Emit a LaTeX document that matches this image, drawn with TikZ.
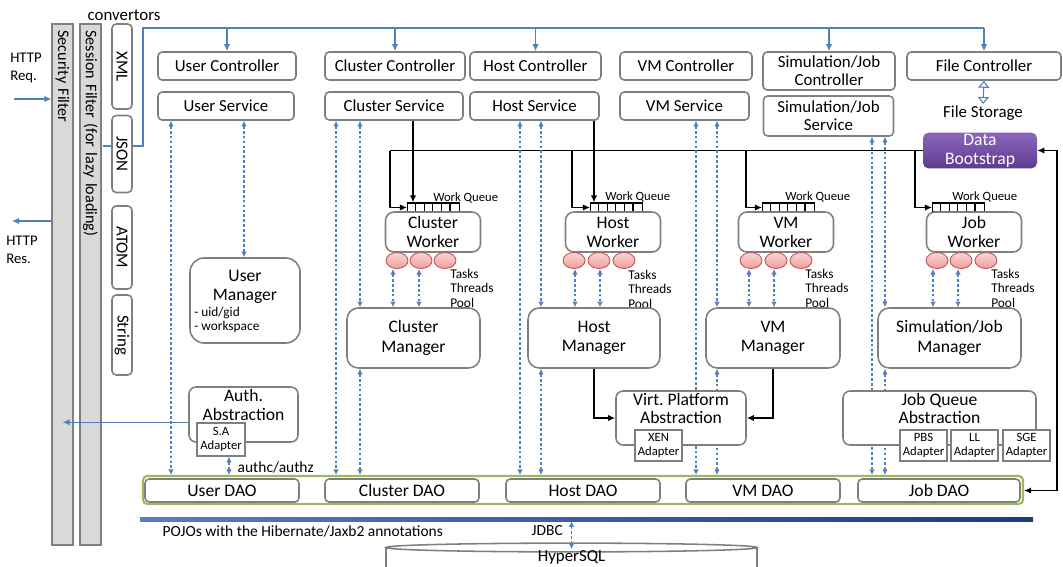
\documentclass[tikz,border=0pt]{standalone}
\usepackage{fontspec}
\setmainfont{Carlito}
\usetikzlibrary{arrows.meta,shapes.geometric,calc}

\definecolor{boxgray}{HTML}{7F7F7F}
\definecolor{arrowblue}{HTML}{4F81BD}
\definecolor{barfill}{HTML}{D9D9D9}
\definecolor{daogreen}{HTML}{9BBB59}
\definecolor{bootTop}{HTML}{8A66BE}
\definecolor{bootBot}{HTML}{5E3C8C}
\definecolor{threadTop}{HTML}{FBD6D6}
\definecolor{threadBot}{HTML}{EE9C9C}
\definecolor{threadRed}{HTML}{C0504D}
\definecolor{navyLight}{HTML}{5B7CC0}
\definecolor{navyDark}{HTML}{1F3A7D}

\def\pxu{0.025cm}
\def\workqueue(#1)(#2,#3){%
	\node[qbox, anchor=west] (#1) at (#2,#3) {};
	\foreach \k in {1,...,5}
		\draw[line width=0.8pt] ($(#1.south west)+(\k*8.6,0)$) -- ($(#1.north west)+(\k*8.6,0)$);
}

\tikzset{
	sz/.style 2 args={minimum width=#1*\pxu, minimum height=#2*\pxu},
	txt/.style={align=center, inner sep=1pt, font=\fontsize{12}{13}\selectfont},
	smalltxt/.style={align=left, inner sep=0pt, font=\fontsize{10.5}{12.5}\selectfont},
	note/.style={align=left, inner sep=0pt, font=\fontsize{9.5}{10.3}\selectfont},
	box/.style={draw=boxgray, line width=1.1pt, rounded corners=3pt, fill=white,
		align=center, inner sep=1pt, font=\fontsize{12}{13}\selectfont},
	wk/.style={box, rounded corners=6pt, sz={95}{40}, font=\fontsize{12.5}{13.5}\selectfont},
	mgr/.style={box, rounded corners=8pt, font=\fontsize{12.5}{14}\selectfont},
	absbox/.style={box, rounded corners=5pt},
	daobox/.style={box, sz={154}{23}, font=\fontsize{12.5}{13}\selectfont},
	adapter/.style={draw=boxgray, line width=1.1pt, fill=white, align=center,
		inner sep=0pt, font=\fontsize{9}{10}\selectfont},
	boot/.style={rounded corners=4pt, top color=bootTop, bottom color=bootBot, text=white,
		align=center, inner sep=1pt, font=\fontsize{12.5}{13.5}\selectfont},
	filterbar/.style={draw=boxgray, line width=0.8pt, fill=barfill, rotate=-90,
		sz={521}{21}, text width=12.7cm, align=left, inner sep=1pt,
		font=\fontsize{11.5}{13}\selectfont},
	conv/.style={box, rotate=-90},
	thread/.style={ellipse, draw=threadRed, line width=0.6pt, top color=threadTop,
		bottom color=threadBot, sz={22}{16}, inner sep=0pt},
	qbox/.style={draw, line width=0.8pt, fill=white, sz={51.6}{9}, inner sep=0pt},
	flow/.style={-{Latex[length=5pt,width=4.5pt]}, line width=1.1pt},
	flowboth/.style={{Latex[length=5pt,width=4.5pt]}-{Latex[length=5pt,width=4.5pt]}, line width=1.1pt},
	call/.style={-{Latex[length=5pt,width=4.5pt]}, draw=arrowblue, line width=0.9pt},
	link/.style={{Latex[length=4pt,width=4pt]}-{Latex[length=4pt,width=4pt]}, draw=arrowblue,
		line width=0.8pt, dash pattern=on 2pt off 1.5pt},
}

\begin{document}
\begin{tikzpicture}[x=\pxu, y=-\pxu]
	%%%%% START %%%%%
	\useasboundingbox (0,0) rectangle (1063,566);
	
	\node[filterbar] (secFilter) at (62.5,284.5) {Security Filter};
	\node[filterbar] (sessFilter) at (90.5,284.5) {Session Filter (for lazy loading)};
	
	\node[txt, anchor=west] (convLbl) at (86,15) {convertors};
	\node[smalltxt, anchor=west] (httpReq) at (10,68) {HTTP\\Req.};
	\node[smalltxt, anchor=west] (httpRes) at (6,250) {HTTP\\Res.};
	\coordinate (reqIn) at (14,99);
	\coordinate (resOut) at (12,221);
	\draw[call] (reqIn) -- (secFilter.south |- reqIn);
	\draw[call] (secFilter.south |- resOut) -- (resOut);
	
	\node[box, sz={138}{28}] (userCtl) at (227,66) {User Controller};
	\node[box, sz={140}{28}] (clusterCtl) at (395,66) {Cluster Controller};
	\node[box, sz={131}{28}] (hostCtl) at (535.5,66) {Host Controller};
	\node[box, sz={132}{28}] (vmCtl) at (686,66) {VM Controller};
	\node[box, sz={132}{38}] (simCtl) at (829,71) {Simulation/Job\\Controller};
	\node[box, sz={154}{28}] (fileCtl) at (984,66) {File Controller};
	
	\node[box, sz={136}{28}] (userSvc) at (226,106) {User Service};
	\node[box, sz={138}{28}] (clusterSvc) at (394,106) {Cluster Service};
	\node[box, sz={129}{28}] (hostSvc) at (534.5,106) {Host Service};
	\node[box, sz={129}{28}] (vmSvc) at (684.5,106) {VM Service};
	\node[box, sz={130}{40}] (simSvc) at (828.5,116) {Simulation/Job\\Service};
	\node[txt] (fileStore) at (983,113) {File Storage};
	\node[boot, sz={114}{33}] (bootstrap) at (980,150.5) {Data\\Bootstrap};
	\draw[{Triangle[open,length=5pt,width=8pt]}-{Triangle[open,length=5pt,width=8pt]}, arrowblue, line width=0.8pt] (fileCtl.south) -- (fileStore.north);
	
	\coordinate (jsonTap) at (103,146);
	\coordinate (busCorner) at (143,28);
	\draw[arrowblue, line width=1.1pt] (jsonTap) -| (busCorner) -- (fileCtl.north |- busCorner);
	\draw[call] (userCtl.north |- busCorner) -- (userCtl.north);
	\draw[call] (clusterCtl.north |- busCorner) -- (clusterCtl.north);
	\draw[call] (hostCtl.north |- busCorner) -- (hostCtl.north);
	\draw[call] (simCtl.north |- busCorner) -- (simCtl.north);
	\draw[call] (fileCtl.north |- busCorner) -- (fileCtl.north);
	
	\node[conv, sz={85}{20}] (xmlConv) at (122,66.5) {XML};
	\node[conv, sz={77}{20}] (jsonConv) at (122,154) {JSON};
	\node[conv, sz={83}{20}] (atomConv) at (122,247.5) {ATOM};
	\node[conv, sz={80}{20}] (strConv) at (122,335) {String};
	
	\workqueue(clusterQ)(407,207.5)
	\workqueue(hostQ)(590,207.5)
	\workqueue(vmQ)(762,207.5)
	\workqueue(jobQ)(932,207.5)
	\node[note, anchor=west, font=\fontsize{9}{10}\selectfont] (clusterQLbl) at (433,198) {Work Queue};
	\node[note, anchor=west, font=\fontsize{9}{10}\selectfont] (hostQLbl) at (605,197) {Work Queue};
	\node[note, anchor=west, font=\fontsize{9}{10}\selectfont] (vmQLbl) at (785,197) {Work Queue};
	\node[note, anchor=west, font=\fontsize{9}{10}\selectfont] (jobQLbl) at (952,197) {Work Queue};
	
	\node[wk] (clusterWk) at (433,232) {Cluster\\Worker};
	\node[wk] (hostWk) at (613,232) {Host\\Worker};
	\node[wk] (vmWk) at (786,232) {VM\\Worker};
	\node[wk] (jobWk) at (974,232) {Job\\Worker};
	
	\node[thread] (clusterT1) at (397,260.5) {};
	\node[thread] (clusterT2) at (421,260.5) {};
	\node[thread] (clusterT3) at (445,260.5) {};
	\node[thread] (hostT1) at (574,260.5) {};
	\node[thread] (hostT2) at (599,260.5) {};
	\node[thread] (hostT3) at (624,260.5) {};
	\node[thread] (vmT1) at (751,260.5) {};
	\node[thread] (vmT2) at (776,260.5) {};
	\node[thread] (vmT3) at (801,260.5) {};
	\node[thread] (jobT1) at (937,260.5) {};
	\node[thread] (jobT2) at (961,260.5) {};
	\node[thread] (jobT3) at (986,260.5) {};
	\node[note, anchor=west] (clusterPool) at (450,288) {Tasks\\Threads\\Pool};
	\node[note, anchor=west] (hostPool) at (628,289) {Tasks\\Threads\\Pool};
	\node[note, anchor=west] (vmPool) at (805,288) {Tasks\\Threads\\Pool};
	\node[note, anchor=west] (jobPool) at (991,288) {Tasks\\Threads\\Pool};
	
	\node[mgr, rounded corners=10pt, sz={110}{85}] (userMgr) at (245,300.5) {};
	\node[txt, font=\fontsize{12.5}{13.5}\selectfont] (userMgrLbl) at (245,286.5) {User\\Manager};
	\node[note] (userMgrNote) [anchor=west] at (194,320) {- uid/gid\\- workspace};
	\node[mgr, sz={133}{60}] (clusterMgr) at (413.5,338) {Cluster\\Manager};
	\node[mgr, sz={132}{60}] (hostMgr) at (594,338) {Host\\Manager};
	\node[mgr, sz={134}{60}] (vmMgr) at (773,338) {VM\\Manager};
	\node[mgr, sz={143}{60}] (simMgr) at (949.5,338) {Simulation/Job\\Manager};
	
	\node[draw=daogreen, line width=1.5pt, rounded corners=3pt, fill=white, sz={880}{28}] (daoFrame) at (583,490) {};
	\node[daobox] (userDao) at (222,490.5) {User DAO};
	\node[daobox] (clusterDao) at (402,490.5) {Cluster DAO};
	\node[daobox] (hostDao) at (583,490.5) {Host DAO};
	\node[daobox] (vmDao) at (763,490.5) {VM DAO};
	\node[daobox, sz={162}{23}] (jobDao) at (939,490.5) {Job DAO};
	
	\draw[flow] (clusterSvc.south -| 413,0) -- (413,0 |- clusterQ.north);
	\draw[flow] (hostSvc.south -| 594,0) -- (594,0 |- hostQ.north);
	\draw[line width=1.1pt] (bootstrap.west) -- (390,0 |- bootstrap.west);
	\draw[flow] (390,0 |- bootstrap.west) |- (clusterQ.west);
	\draw[flow] (572,0 |- bootstrap.west) |- (hostQ.west);
	\draw[flow] (746,0 |- bootstrap.west) |- (vmQ.west);
	\draw[flow] (915,0 |- bootstrap.west) |- (jobQ.west);
	\draw[flowboth] (bootstrap.east) -- (1057,0 |- bootstrap.east) -- (1057,0 |- jobDao.east) -- (daoFrame.east |- jobDao.east);
	
	\draw[link] (171,0 |- userSvc.south) -- (171,0 |- daoFrame.north);
	\draw[link] (244,0 |- userSvc.south) -- (244,0 |- userMgr.north);
	\draw[link] (336,0 |- clusterSvc.south) -- (336,0 |- daoFrame.north);
	\draw[link] (360,0 |- clusterSvc.south) -- (360,0 |- clusterMgr.north);
	\draw[link] (360,0 |- clusterMgr.south) -- (360,0 |- daoFrame.north);
	\draw[link] (520,0 |- hostSvc.south) -- (520,0 |- daoFrame.north);
	\draw[link] (541,0 |- hostSvc.south) -- (541,0 |- hostMgr.north);
	\draw[link] (541,0 |- hostMgr.south) -- (541,0 |- daoFrame.north);
	\draw[link] (696,0 |- vmSvc.south) -- (696,0 |- daoFrame.north);
	\draw[link] (717,0 |- vmSvc.south) -- (717,0 |- vmMgr.north);
	\draw[link] (717,0 |- vmMgr.south) -- (717,0 |- daoFrame.north);
	\draw[link] (872,0 |- simSvc.south) -- (872,0 |- daoFrame.north);
	\draw[link] (885,0 |- simSvc.south) -- (885,0 |- simMgr.north);
	\draw[link] (885,0 |- simMgr.south) -- (885,0 |- daoFrame.north);
	
	\draw[link] (393,0 |- clusterT1.south) -- (393,0 |- clusterMgr.north);
	\draw[link] (419,0 |- clusterT2.south) -- (419,0 |- clusterMgr.north);
	\draw[link] (575,0 |- hostT1.south) -- (575,0 |- hostMgr.north);
	\draw[link] (600,0 |- hostT2.south) -- (600,0 |- hostMgr.north);
	\draw[link] (749,0 |- vmT1.south) -- (749,0 |- vmMgr.north);
	\draw[link] (774,0 |- vmT2.south) -- (774,0 |- vmMgr.north);
	\draw[link] (933,0 |- jobT1.south) -- (933,0 |- simMgr.north);
	\draw[link] (958,0 |- jobT2.south) -- (958,0 |- simMgr.north);
	
	\node[absbox, sz={109}{55}] (authAbs) at (243.5,414.5) {};
	\node[txt, font=\fontsize{12.5}{13}\selectfont] (authLbl) at (243.5,405) {Auth.\\Abstraction};
	\node[adapter, sz={48}{33}] (saAdapter) at (221,439.5) {S.A\\Adapter};
	\node[absbox, sz={130}{54}] (virtAbs) at (681,418) {};
	\node[txt, font=\fontsize{12.5}{13}\selectfont] (virtLbl) at (681,408.5) {Virt.\ Platform\\Abstraction};
	\node[adapter, sz={47}{31}] (xenAdapter) at (658.5,445.5) {XEN\\Adapter};
	\node[absbox, sz={193}{54}] (jobQAbs) at (939.5,418) {};
	\node[txt, font=\fontsize{12.5}{13}\selectfont] (jobQAbsLbl) at (939.5,408.5) {Job Queue\\Abstraction};
	\node[adapter, sz={47}{31}] (pbsAdapter) at (923.5,445.5) {PBS\\Adapter};
	\node[adapter, sz={47}{31}] (llAdapter) at (974.5,445.5) {LL\\Adapter};
	\node[adapter, sz={47}{31}] (sgeAdapter) at (1026.5,445.5) {SGE\\Adapter};
	
	\draw[flow] (hostMgr.south) |- (virtAbs.west);
	\draw[flow] (vmMgr.south) |- (virtAbs.east);
	\draw[call] (authAbs.west |- saAdapter.north) -- (secFilter.center |- saAdapter.north);
	\draw[link] (229,0 |- saAdapter.south) -- (229,0 |- daoFrame.north);
	\node[txt, anchor=west, font=\fontsize{11}{12}\selectfont] (authzLbl) at (236,467) {authc/authz};
	
	\node[fill, left color=navyLight, right color=navyDark, inner sep=0pt, sz={893}{4}] (ormBar) at (586.5,519) {};
	\node[txt, anchor=west, font=\fontsize{11}{12}\selectfont] (pojoLbl) at (161,531) {POJOs with the Hibernate/Jaxb2 annotations};
	\node[txt, anchor=west, font=\fontsize{11}{12}\selectfont] (jdbcLbl) at (530,531) {JDBC};
	
	\draw[draw=boxgray, line width=1.1pt, fill=white] (386,547.5) -- (386,580) -- (757,580) -- (757,547.5);
	\draw[draw=boxgray, line width=1.1pt, fill=white] (571.5,547.5) ellipse [x radius=4.6375cm, y radius=0.11cm];
	\coordinate (hsqlTop) at (571.5,549);
	\node[txt] (hsql) at (571.5,557.5) {HyperSQL};
	\draw[link] (ormBar.south -| hsqlTop) -- (hsqlTop);
	%%%%% END %%%%%
\end{tikzpicture}
\end{document}
